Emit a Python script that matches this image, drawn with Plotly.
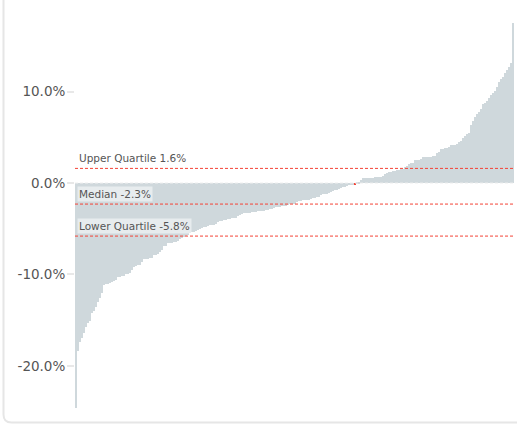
import plotly.graph_objects as go

# ---- data (percent values, sorted ascending) ----
values = [
    -24.6, -18.4, -17.4, -16.9, -16.4, -15.7, -15.3, -15.1, -14.2, -14.0,
    -13.6, -13.0, -12.6, -12.0, -11.1, -11.0, -11.0, -10.9, -10.8, -10.7,
    -10.6, -10.3, -10.3, -10.2, -10.2, -10.0, -10.0, -9.8, -9.5, -9.2,
    -9.1, -9.0, -9.0, -8.6, -8.3, -8.3, -8.3, -8.2, -8.2, -7.9,
    -7.9, -7.8, -7.5, -7.3, -6.9, -6.9, -6.6, -6.6, -6.6, -6.5,
    -6.4, -6.3, -6.1, -6.0, -5.9, -5.8, -5.7, -5.5, -5.4, -5.3,
    -5.2, -5.1, -5.0, -4.9, -4.8, -4.8, -4.7, -4.6, -4.6, -4.6,
    -4.5, -4.3, -4.2, -4.1, -4.0, -4.0, -3.9, -3.9, -3.8, -3.8,
    -3.8, -3.6, -3.5, -3.4, -3.3, -3.3, -3.3, -3.3, -3.2, -3.2,
    -3.2, -3.1, -3.1, -3.1, -3.1, -3.0, -2.9, -2.8, -2.8, -2.7,
    -2.6, -2.6, -2.6, -2.5, -2.5, -2.5, -2.4, -2.3, -2.3, -2.3,
    -2.1, -2.0, -2.0, -1.9, -1.9, -1.9, -1.8, -1.7, -1.6, -1.6,
    -1.5, -1.5, -1.3, -1.2, -1.2, -1.2, -1.1, -0.95, -0.9, -0.8,
    -0.8, -0.6, -0.5, -0.4, -0.4, -0.3, -0.25, -0.2, -0.15, -0.15,
    0.1, 0.1, 0.3, 0.5, 0.5, 0.5, 0.5, 0.5, 0.5, 0.7,
    0.7, 0.7, 0.7, 0.8, 0.95, 1.05, 1.2, 1.2, 1.3, 1.35,
    1.4, 1.45, 1.5, 1.55, 1.8, 1.85, 2.1, 2.2, 2.2, 2.5,
    2.5, 2.5, 2.6, 2.8, 2.8, 2.85, 2.85, 2.9, 3.0, 3.0,
    3.3, 3.4, 3.7, 3.7, 3.8, 3.8, 3.9, 4.15, 4.15, 4.2,
    4.25, 4.5, 4.6, 4.95, 5.1, 5.4, 5.5, 6.3, 6.8, 7.25,
    7.5, 7.8, 8.1, 8.6, 8.8, 9.0, 9.25, 9.6, 9.9, 10.05,
    10.5, 11.1, 11.4, 11.6, 12.0, 12.35, 12.7, 13.1, 17.5,
]
highlight_index = [139]

quartile_names = ["Upper Quartile", "Median", "Lower Quartile"]
quartile_values = [1.6, -2.3, -5.8]

tick_values = [-20, -10, 0, 10]
tick_labels = ["-20.0%", "-10.0%", "0.0%", "10.0%"]

# ---- style ----
BAR = "#cfd8dc"
RED = "#f44336"
W, H = 517, 426
ML, MR, MT, MB = 75, 3, 23, 18

colors = [RED if i in highlight_index else BAR for i in range(len(values))]

fig = go.Figure(go.Bar(
    x=list(range(len(values))), y=values,
    marker=dict(color=colors, line=dict(width=0)),
    hoverinfo="y",
))

pw = W - ML - MR
ph = H - MT - MB
def px_x(p):
    return (p - ML) / pw
def px_y(p):
    return (H - MB - p) / ph

shapes = []
# zero reference line
shapes.append(dict(type="line", xref="paper", yref="y", x0=0, x1=1, y0=0, y1=0,
                   line=dict(color="#eeeeee", width=1, dash="3px,2px"), layer="above"))
for v in quartile_values:
    shapes.append(dict(type="line", xref="paper", yref="y", x0=0, x1=1, y0=v, y1=v,
                       line=dict(color=RED, width=1, dash="3px,2px"), layer="above"))
# card frame (left + bottom, rounded corner)
xl, yb, r = 3.5, 422.5, 8
path = (f"M {px_x(xl)},{px_y(-10)} L {px_x(xl)},{px_y(yb - r)} "
        f"Q {px_x(xl)},{px_y(yb)} {px_x(xl + r)},{px_y(yb)} L {px_x(W + 20)},{px_y(yb)}")
shapes.append(dict(type="path", xref="paper", yref="paper", path=path,
                   line=dict(color="#e6e6e6", width=2)))

annotations = []
for name, v in zip(quartile_names, quartile_values):
    annotations.append(dict(
        x=0, xref="paper", y=v, yref="y", xanchor="left", yanchor="bottom",
        xshift=2, yshift=2, showarrow=False,
        text=f"{name} {v:.1f}%",
        font=dict(family="DejaVu Sans", size=10.5, color="#555555"),
        bgcolor="rgba(255,255,255,0.5)", borderpad=1,
    ))

fig.update_layout(
    width=W, height=H,
    margin=dict(l=ML, r=MR, t=MT, b=MB, pad=0),
    paper_bgcolor="white", plot_bgcolor="white",
    bargap=0, showlegend=False,
    shapes=shapes, annotations=annotations,
    xaxis=dict(visible=False, range=[-0.5, len(values) - 0.5]),
    yaxis=dict(range=[min(values), max(values)], tickvals=tick_values, ticktext=tick_labels,
               showgrid=False, zeroline=False, showline=False,
               ticks="outside", ticklen=7, tickcolor="#e8e8e8", tickwidth=2,
               ticklabelstandoff=-1,
               tickfont=dict(family="DejaVu Sans", size=13.5, color="#555555")),
)

fig.write_html("out.html", config={"displayModeBar": False},
               post_script="document.body.style.margin='0';")
